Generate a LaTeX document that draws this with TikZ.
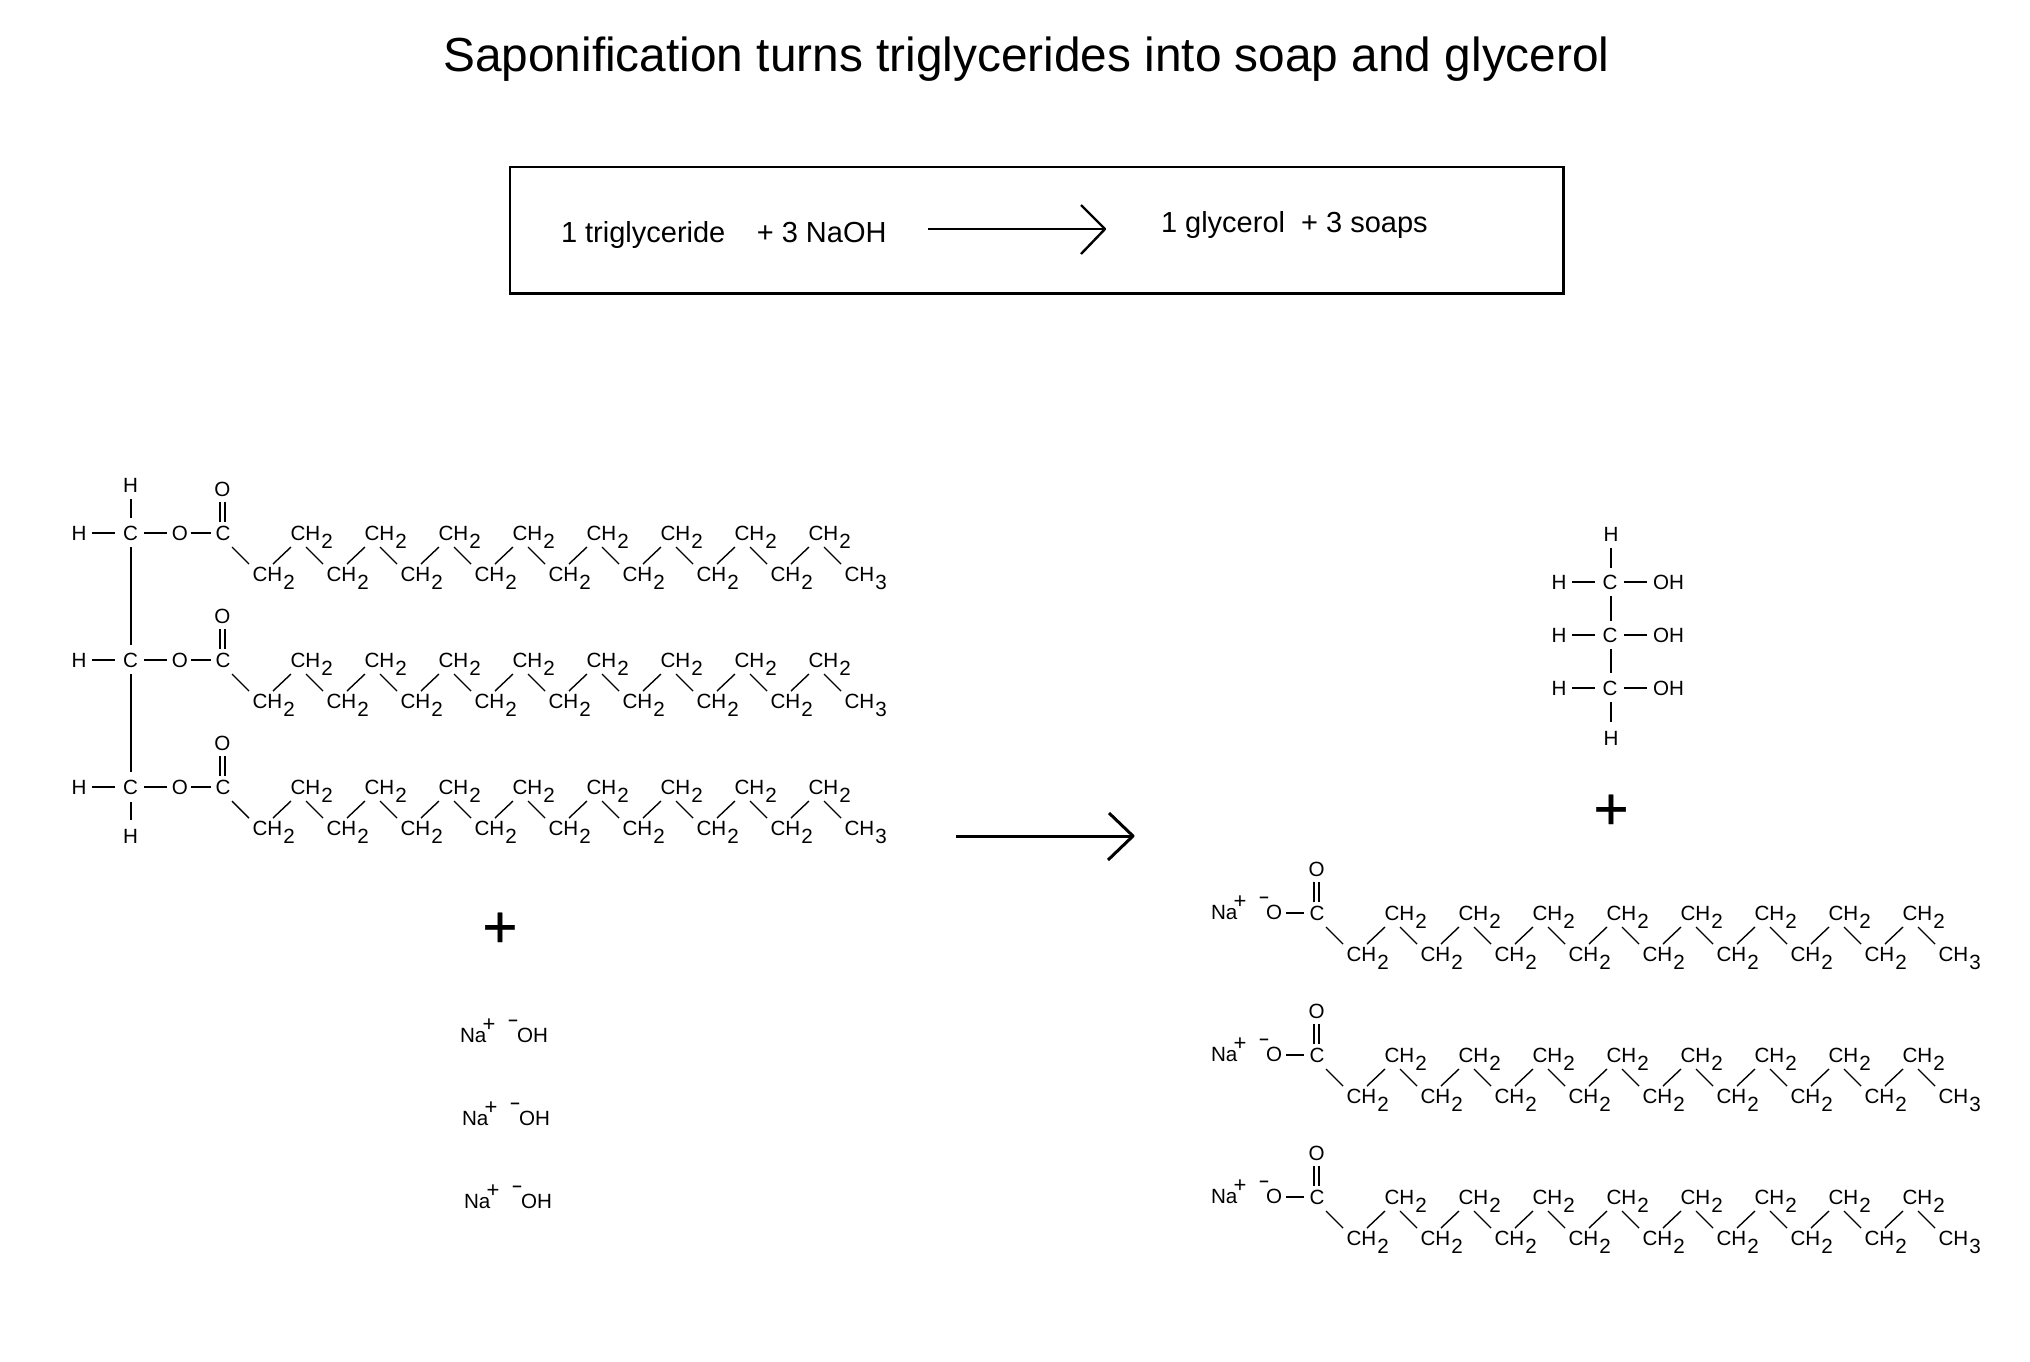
\documentclass[tikz,border=0pt]{standalone}
\usepackage{fontspec}
\setmainfont{Liberation Sans}
\usetikzlibrary{calc}
\newcommand{\dn}[1]{\kern0.5pt\raisebox{-4pt}{#1}}
\newcommand{\atomfont}{\fontsize{10.3pt}{11pt}\selectfont}
\tikzset{
  x=0.5pt,y=-0.5pt,
  atom/.style={inner sep=0pt,outer sep=0pt,anchor=base west,font=\atomfont},
  catom/.style={inner sep=0pt,outer sep=0pt,anchor=center,font=\atomfont},
  sign/.style={inner sep=0pt,outer sep=0pt,anchor=center,font=\fontsize{11pt}{12pt}\selectfont},
  negsign/.style={inner sep=0pt,outer sep=0pt,anchor=center,font=\bfseries\fontsize{8.5pt}{9pt}\selectfont},
  bond/.style={line width=1.05pt,black},
  zig/.style={line width=0.7pt,black},
  bigplus/.style={inner sep=0pt,outer sep=0pt,anchor=center,font=\fontsize{30pt}{30pt}\selectfont\addfontfeature{FakeBold=0.6}},
  reaction/.style={line width=1.5pt,black,line join=round},
  smallreaction/.style={line width=1.2pt,black,line join=round},
  boxtext/.style={inner sep=0pt,outer sep=0pt,anchor=base west,font=\fontsize{14.5pt}{17pt}\selectfont},
}
% #1 name prefix, #2 C x, #3 row y
\newcommand{\fatty}[3]{%
  \node[catom] (#1c) at (#2,#3) {C};
  \node[catom] (#1o) at ({#2-0.5},{#3-44}) {O};
  \draw[bond] ($(#1c.center)+(-3,-31)$) -- ($(#1c.center)+(-3,-11)$);
  \draw[bond] ($(#1c.center)+(2,-31)$) -- ($(#1c.center)+(2,-11)$);
  \foreach \i in {1,...,8}{
    \node[atom] (#1l\i) at ({#2+29.5+74*(\i-1)},{#3+48}) {CH\dn{2}};
    \node[atom] (#1u\i) at ({#2+67.5+74*(\i-1)},{#3+7}) {CH\dn{2}};
  }
  \node[atom] (#1e) at ({#2+29.5+74*8},{#3+48}) {CH\dn{3}};
  \draw[zig] ($(#1c.center)+(9,14)$) -- ($(#1l1.base west)+(-3.5,-17)$);
  \foreach \i in {1,...,8}{
    \draw[zig] ($(#1l\i.base west)+(20.5,-17)$) -- ($(#1u\i.base west)+(0.5,7)$);
  }
  \foreach \i [count=\j from 2] in {1,...,7}{
    \draw[zig] ($(#1u\i.base west)+(15.5,7)$) -- ($(#1l\j.base west)+(-3.5,-17)$);
  }
  \draw[zig] ($(#1u8.base west)+(15.5,7)$) -- ($(#1e.base west)+(-3.5,-17)$);
}
% #1 prefix, #2 x of Na start, #3 baseline, #4 tail offset (57 = OH, 55 = O)
\newcommand{\naion}[4]{%
  \node[atom] (#1na) at (#2,#3) {Na};
  \node[sign] (#1plus) at ({#2+29},{#3-17}) {+};
  \node[negsign] (#1minus) at ({#2+53},{#3-19}) {–};
  \node[atom] (#1tail) at ({#2+#4},#3) {\ifnum#4>55 OH\else O\fi};
}
\begin{document}
\begin{tikzpicture}
\useasboundingbox (0,0) rectangle (2030,1361);
% title and summary
\node[inner sep=0pt,anchor=base,font=\fontsize{23.9pt}{28pt}\selectfont] (title) at (1026.5,71) {Saponification turns triglycerides into soap and glycerol};
\node[draw,line width=1.35pt,minimum width=526.75pt,minimum height=63.25pt,inner sep=0pt,outer sep=0pt,anchor=center] (box) at (1036.75,230.25) {};
\node[boxtext] (lhs) at (561,242) {1 triglyceride\hspace*{15.7pt}+ 3 NaOH};
\node[boxtext] (rhs) at (1161,232.5) {1 glycerol\hspace*{8pt}+ 3 soaps};
\coordinate (ba) at (928,229);
\coordinate (bb) at (1105,229);
\coordinate (bh1) at (1081,205);
\coordinate (bh2) at (1081,254);
\draw[smallreaction] (ba) -- (bb);
\draw[smallreaction] (bh1) -- (bb) -- (bh2);
% triglyceride
\foreach \n/\r in {a/533,b/660,c/787}{
  \node[catom] (\n hl) at (79,\r) {H};
  \node[catom] (\n gc) at (130.5,\r) {C};
  \node[catom] (\n eo) at (180,\r) {O};
  \fatty{\n}{223}{\r}
  \draw[bond] ($(\n hl.center)+(13,0)$) -- ($(\n gc.center)+(-15.5,0)$);
  \draw[bond] ($(\n gc.center)+(13.5,0)$) -- ($(\n eo.center)+(-13,0)$);
  \draw[bond] ($(\n eo.center)+(11,0)$) -- ($(\n c.center)+(-12,0)$);
}
\node[catom] (th) at (130.5,485) {H};
\node[catom] (bh) at (130.5,836) {H};
\draw[bond] ($(th.center)+(0.5,14)$) -- ($(agc.center)+(0.5,-15)$);
\draw[bond] ($(agc.center)+(0.5,14)$) -- ($(bgc.center)+(0.5,-15)$);
\draw[bond] ($(bgc.center)+(0.5,14)$) -- ($(cgc.center)+(0.5,-15)$);
\draw[bond] ($(cgc.center)+(0.5,15)$) -- ($(bh.center)+(0.5,-16)$);
% plus and NaOH
\node[bigplus] (p1) at (500,930) {+};
\naion{x}{460}{1042}{57}
\naion{y}{462}{1125}{57}
\naion{z}{464}{1208}{57}
% arrow
\coordinate (ma) at (956,836);
\coordinate (mb) at (1133,836);
\coordinate (mh1) at (1109,813);
\coordinate (mh2) at (1108,860);
\draw[reaction] (ma) -- (mb);
\draw[reaction] (mh1) -- (mb) -- (mh2);
% glycerol
\node[catom] (gt) at (1611,534) {H};
\node[catom] (gb) at (1611,738) {H};
\foreach \n/\r in {d/582,e/635,f/688}{
  \node[catom] (\n h) at (1559,\r) {H};
  \node[catom] (\n c) at (1610,\r) {C};
  \node[atom] (\n oh) at (1653,{\r+7}) {OH};
  \draw[bond] ($(\n h.center)+(13,0)$) -- ($(\n c.center)+(-15,0)$);
  \draw[bond] ($(\n c.center)+(14,0)$) -- ($(\n oh.base west)+(-6,-7)$);
}
\draw[bond] ($(gt.center)+(0,14)$) -- ($(dc.center)+(1,-14)$);
\draw[bond] ($(dc.center)+(1,14)$) -- ($(ec.center)+(1,-14)$);
\draw[bond] ($(ec.center)+(1,14)$) -- ($(fc.center)+(1,-15)$);
\draw[bond] ($(fc.center)+(1,14)$) -- ($(gb.center)+(0,-16)$);
\node[bigplus] (p2) at (1611,812) {+};
% soaps
\foreach \n/\r in {g/913,h/1055,i/1197}{
  \naion{\n}{1211}{\r+6}{55}
  \fatty{\n s}{1317}{\r}
  \draw[bond] ($(\n tail.base west)+(20,-6)$) -- ($(\n sc.center)+(-13,0)$);
}
\end{tikzpicture}
\end{document}
